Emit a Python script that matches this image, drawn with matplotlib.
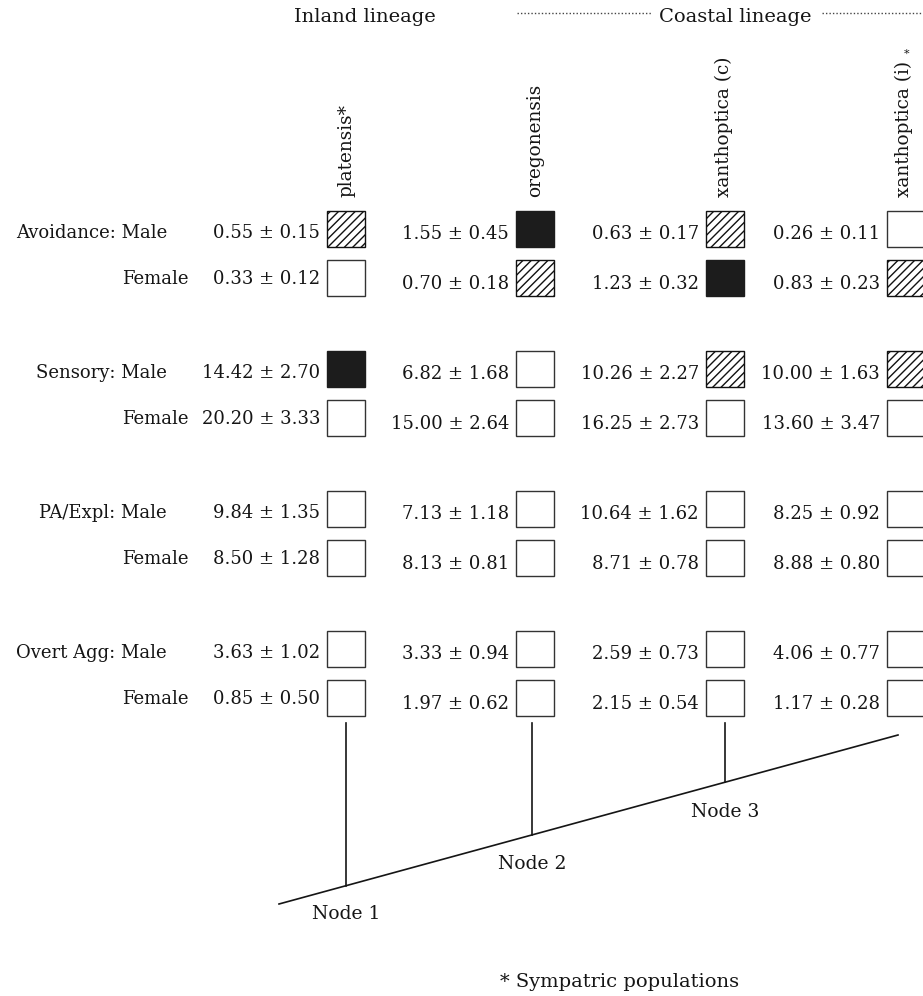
import numpy as np
import matplotlib
matplotlib.use('Agg')
import matplotlib.pyplot as plt
from matplotlib.patches import Rectangle

plt.rcParams['font.family'] = 'DejaVu Serif'
plt.rcParams['hatch.linewidth'] = 1.0

# species (columns) and behaviours (rows)
species = ['platensis*', 'oregonensis', 'xanthoptica (c)', 'xanthoptica (i)']
behaviours = ['Avoidance', 'Sensory', 'PA/Expl', 'Overt Agg']

# mean +/- SE, one list per row, columns in species order
avoid_m_mean = [0.55, 1.55, 0.63, 0.26]; avoid_m_se = [0.15, 0.45, 0.17, 0.11]
avoid_f_mean = [0.33, 0.70, 1.23, 0.83]; avoid_f_se = [0.12, 0.18, 0.32, 0.23]
sens_m_mean = [14.42, 6.82, 10.26, 10.00]; sens_m_se = [2.70, 1.68, 2.27, 1.63]
sens_f_mean = [20.20, 15.00, 16.25, 13.60]; sens_f_se = [3.33, 2.64, 2.73, 3.47]
pa_m_mean = [9.84, 7.13, 10.64, 8.25]; pa_m_se = [1.35, 1.18, 1.62, 0.92]
pa_f_mean = [8.50, 8.13, 8.71, 8.88]; pa_f_se = [1.28, 0.81, 0.78, 0.80]
overt_m_mean = [3.63, 3.33, 2.59, 4.06]; overt_m_se = [1.02, 0.94, 0.73, 0.77]
overt_f_mean = [0.85, 1.97, 2.15, 1.17]; overt_f_se = [0.50, 0.62, 0.54, 0.28]

# box codes: 'b' black, 'h' hatched, 'w' white
avoid_m_box = ['h', 'b', 'h', 'w']
avoid_f_box = ['w', 'h', 'b', 'h']
sens_m_box = ['b', 'w', 'h', 'h']
sens_f_box = ['w', 'w', 'w', 'w']
pa_m_box = ['w', 'w', 'w', 'w']
pa_f_box = ['w', 'w', 'w', 'w']
overt_m_box = ['w', 'w', 'w', 'w']
overt_f_box = ['w', 'w', 'w', 'w']

node_labels = ['Node 1', 'Node 2', 'Node 3']

rows = [
    (avoid_m_mean, avoid_m_se, avoid_m_box),
    (avoid_f_mean, avoid_f_se, avoid_f_box),
    (sens_m_mean, sens_m_se, sens_m_box),
    (sens_f_mean, sens_f_se, sens_f_box),
    (pa_m_mean, pa_m_se, pa_m_box),
    (pa_f_mean, pa_f_se, pa_f_box),
    (overt_m_mean, overt_m_se, overt_m_box),
    (overt_f_mean, overt_f_se, overt_f_box),
]

# layout (pixels)
W, H = 923, 996
box_left = [327, 516, 706, 887]
box_w, box_h = 38, 36
row_top0, group_step, sex_step = 211, 140, 49
edge = '#333333'
ink = '#151515'
fs = 13

fig = plt.figure(figsize=(W / 100, H / 100), dpi=100)
ax = fig.add_axes([0, 0, 1, 1])
ax.set_xlim(0, W)
ax.set_ylim(H, 0)
ax.axis('off')

# header
ax.text(365, 22, 'Inland lineage', fontsize=14, ha='center', va='baseline', color=ink)
ax.text(735, 22, 'Coastal lineage', fontsize=14, ha='center', va='baseline', color=ink)
ax.plot([517, 652], [12.5, 12.5], color='#444', lw=1, ls=(0, (1, 1.5)))
ax.plot([822, 923], [12.5, 12.5], color='#444', lw=1, ls=(0, (1, 1.5)))

# species labels
label_x = [346, 535, 724, 904]
for j, name in enumerate(species):
    ax.text(label_x[j], 197, name, fontsize=13.3, rotation=90,
            ha='center', va='bottom', color=ink)
ax.text(907, 54, '*', fontsize=8, ha='center', va='center', color=ink)

# rows
for i, (means, ses, boxes) in enumerate(rows):
    g, sex = divmod(i, 2)
    top = row_top0 + g * group_step + sex * sex_step
    if sex == 0:
        ax.text(167, top + 27, behaviours[g] + ': Male', fontsize=fs,
                ha='right', va='baseline', color=ink)
    else:
        ax.text(189, top + 23.5, 'Female', fontsize=fs,
                ha='right', va='baseline', color=ink)
    for j in range(4):
        x0 = box_left[j]
        if j == 0:
            base = top + (27 if sex == 0 else 23.5)
        else:
            base = top + (27.5 if sex == 0 else 28.5)
        ax.text(x0 - 7, base, '%.2f \u00b1 %.2f' % (means[j], ses[j]), fontsize=fs,
                ha='right', va='baseline', color=ink)
        code = boxes[j]
        if code == 'b':
            rect = Rectangle((x0, top), box_w, box_h, facecolor='#1c1c1c',
                             edgecolor='#1c1c1c', lw=1)
        elif code == 'h':
            rect = Rectangle((x0, top), box_w, box_h, facecolor='white',
                             edgecolor='#111111', lw=1, hatch='////')
        else:
            rect = Rectangle((x0, top), box_w, box_h, facecolor='white',
                             edgecolor=edge, lw=1)
        ax.add_patch(rect)

# tree
root = (279, 904)
tip = (898, 735)
ax.plot([root[0], tip[0]], [root[1], tip[1]], color=ink, lw=1.2)
node_x = [346, 532, 725]
node_base = [919, 869, 817]
for k, nx in enumerate(node_x):
    ny = np.interp(nx, [root[0], tip[0]], [root[1], tip[1]])
    ax.plot([nx, nx], [723, ny], color=ink, lw=1.2)
    ax.text(nx, node_base[k], node_labels[k], fontsize=13.5,
            ha='center', va='baseline', color=ink)

ax.text(620, 987, '* Sympatric populations', fontsize=14,
        ha='center', va='baseline', color=ink)

fig.savefig('out.png', dpi=100)
